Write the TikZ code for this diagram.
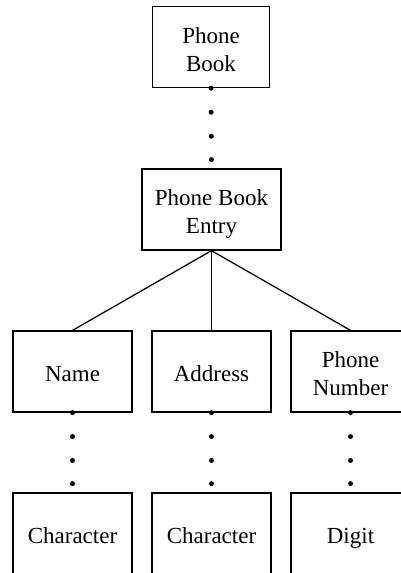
\documentclass[tikz,border=0pt]{standalone}
\usepackage{fontspec}
\setmainfont{Liberation Serif}
\usetikzlibrary{calc}
\newcommand{\nodepth}[1]{\raisebox{0pt}[\height][0pt]{#1}}
\begin{document}
\begin{tikzpicture}[x=1pt,y=-1pt,
  box/.style={draw,line width=1.25pt,minimum width=119pt,minimum height=81pt,inner sep=0pt},
  lbl/.style={align=center,inner sep=0pt,yshift=-2.5pt,
    font=\fontsize{23}{28}\selectfont},
  txt/.style={label={[lbl]center:#1}},
  link/.style={line width=1.25pt},
  dotmark/.style={fill,circle,inner sep=0pt,minimum size=5pt}]
\useasboundingbox (0,0) rectangle (401,573);
\clip (0,0) rectangle (401,573);
\node[box,minimum width=117pt,txt={Phone\\Book}] (pb) at (211,47) {};
\node[box,minimum width=139pt,txt={Phone Book\\\nodepth{Entry}}] (pbe) at (211.5,209.5) {};
\node[box,txt={Name}] (name) at (72.5,371.5) {};
\node[box,txt={Address}] (addr) at (211.5,371.5) {};
\node[box,txt={Phone\\Number}] (pn) at (350.5,371.5) {};
\node[box,txt={Character}] (c1) at (72.5,533.5) {};
\node[box,txt={Character}] (c2) at (211.5,533.5) {};
\node[box,txt={\nodepth{Digit}}] (dg) at (350.5,533.5) {};
\draw[link] (pbe.south) -- (name.north);
\draw[link] (pbe.south) -- (addr.north);
\draw[link] (pbe.south) -- (pn.north);
\foreach \a/\b in {pb/pbe,name/c1,addr/c2,pn/dg}{
  \foreach \k in {0,0.3,0.6,0.89}{
    \node[dotmark] at ($(\a.south)!\k!(\b.north)$) {};
  }
}
\end{tikzpicture}
\end{document}
